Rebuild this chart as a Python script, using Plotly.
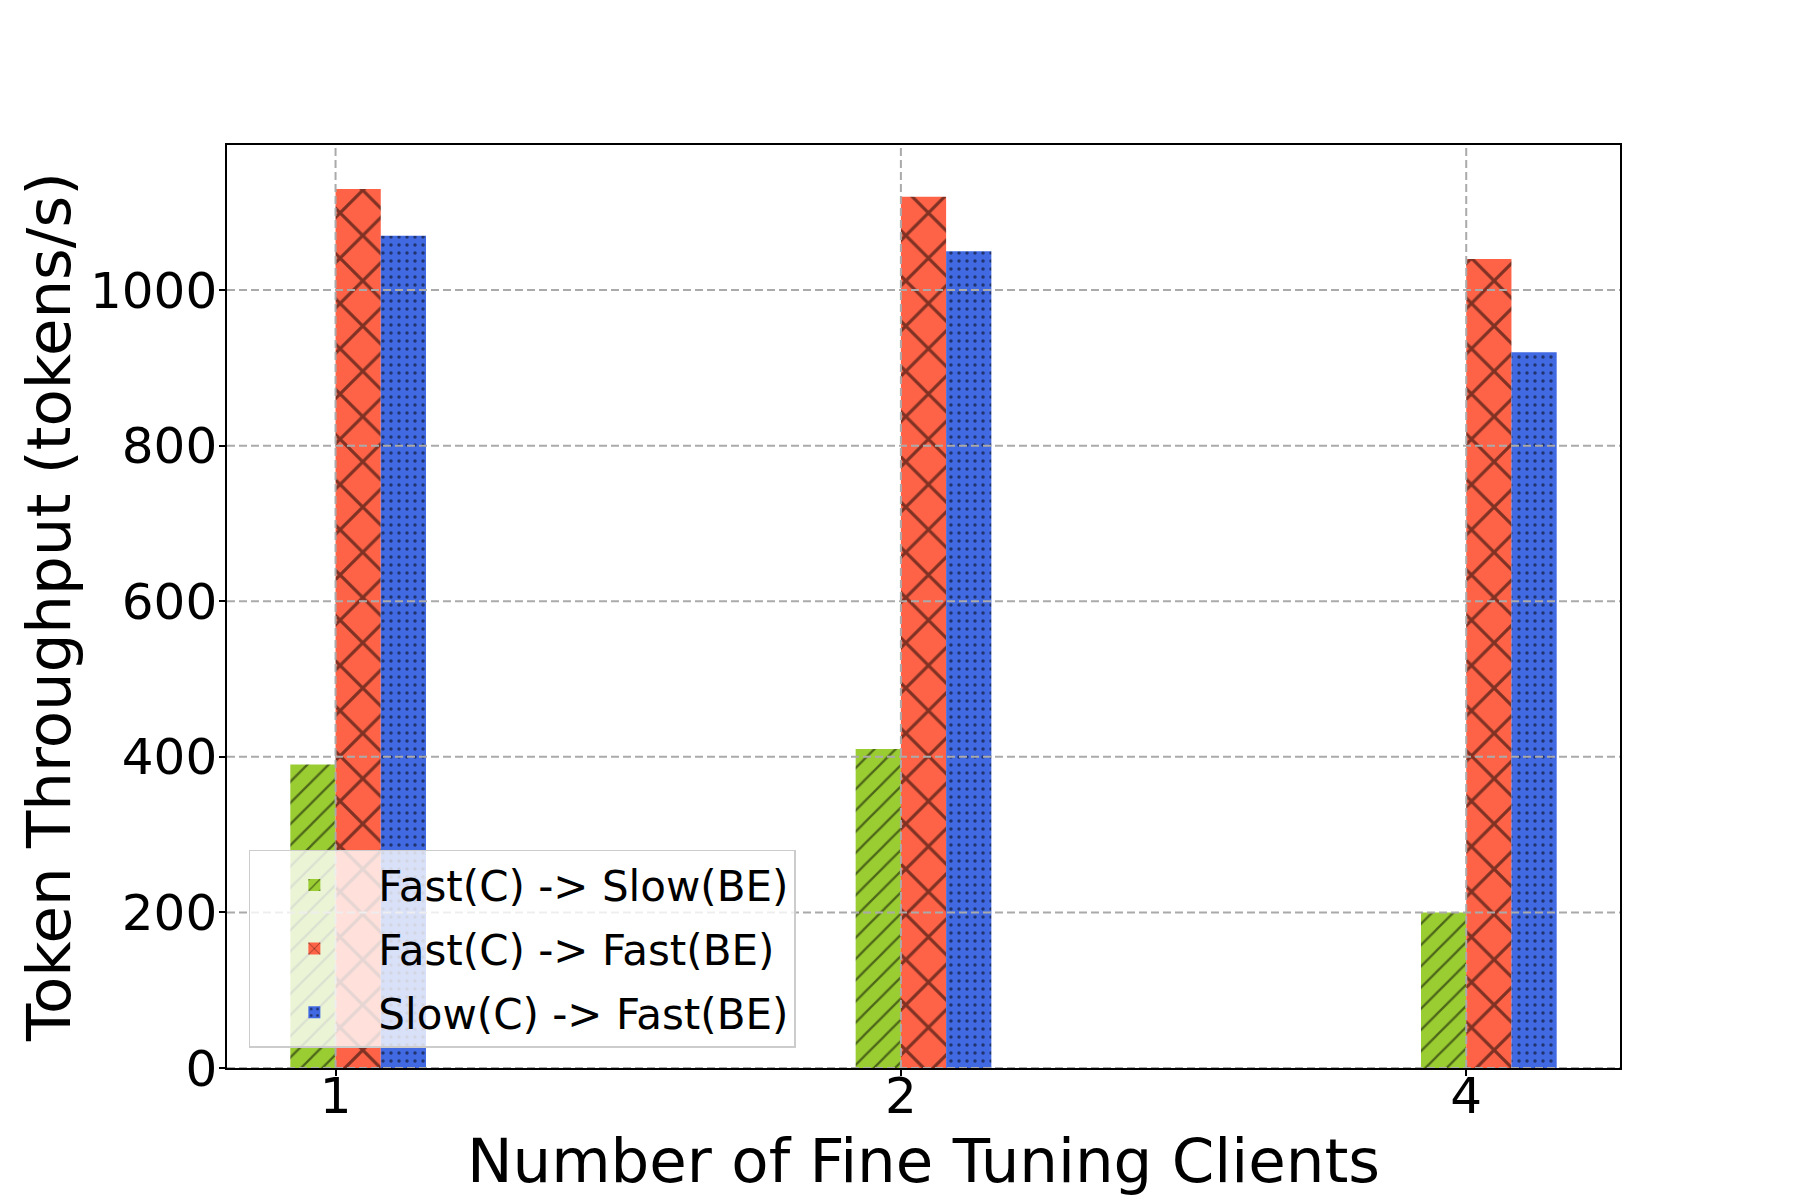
import plotly.graph_objects as go

# ---- data ----
categories = ["1", "2", "4"]
series_names = ["Fast(C) -> Slow(BE)", "Fast(C) -> Fast(BE)", "Slow(C) -> Fast(BE)"]
fast_slow = [390, 410, 200]
fast_fast = [1130, 1120, 1040]
slow_fast = [1070, 1050, 920]
y_ticks = [0, 200, 400, 600, 800, 1000]

# ---- styles ----
colors = ["#9ACD32", "#FF6347", "#4169E1"]
patterns = [
    dict(shape="/", size=15, solidity=0.15, fgcolor="black"),
    dict(shape="x", size=32, solidity=0.19, fgcolor="black"),
    dict(shape=".", size=8, solidity=0.15, fgcolor="black"),
]
bar_w = 0.08
offsets = [-bar_w, 0.0, bar_w]
FONT = "DejaVu Sans"

x_pos = list(range(len(categories)))
series = [fast_slow, fast_fast, slow_fast]

fig = go.Figure()
for name, vals, col, pat, off in zip(series_names, series, colors, patterns, offsets):
    fig.add_trace(go.Bar(
        x=x_pos, y=vals, name=name,
        width=bar_w, offset=off,
        marker=dict(color=col, line=dict(width=0), pattern=pat),
        legendgroup=name,
    ))

grid_style = dict(color="#aaaaaa", width=2, dash="8px,4px")
for v in y_ticks:
    fig.add_hline(y=v, line=grid_style, layer="above")
for xp in x_pos:
    fig.add_vline(x=xp, line=grid_style, layer="above")

axis_common = dict(
    showline=True, mirror=True, linecolor="black", linewidth=1.5,
    ticks="outside", ticklen=6, tickwidth=1.5, tickcolor="black",
    showgrid=False, zeroline=False,
    tickfont=dict(family=FONT, size=50, color="black"),
)

fig.update_layout(
    width=1800, height=1200,
    margin=dict(l=219, r=188, t=137, b=140),
    plot_bgcolor="white", paper_bgcolor="white",
    barmode="overlay",
    font=dict(family=FONT, color="black"),
    xaxis=dict(
        range=[-0.192, 2.272], tickvals=x_pos, ticktext=categories,
        ticklabelstandoff=-23,
        title=dict(text="Number of Fine Tuning Clients",
                   font=dict(family=FONT, size=61, color="black"), standoff=0),
        **axis_common,
    ),
    yaxis=dict(
        range=[0, 1186.5], tickvals=y_ticks,
        ticklabelstandoff=-8,
        title=dict(text="Token Throughput (tokens/s)",
                   font=dict(family=FONT, size=61, color="black"), standoff=0),
        **axis_common,
    ),
    legend=dict(
        x=0.0157, y=0.022, xanchor="left", yanchor="bottom",
        font=dict(family=FONT, size=42, color="black"),
        bgcolor="rgba(255,255,255,0.8)", bordercolor="#cccccc", borderwidth=1.5,
        traceorder="grouped", tracegroupgap=6, itemwidth=118,
    ),
    showlegend=True,
)

fig.write_html("out.html")
